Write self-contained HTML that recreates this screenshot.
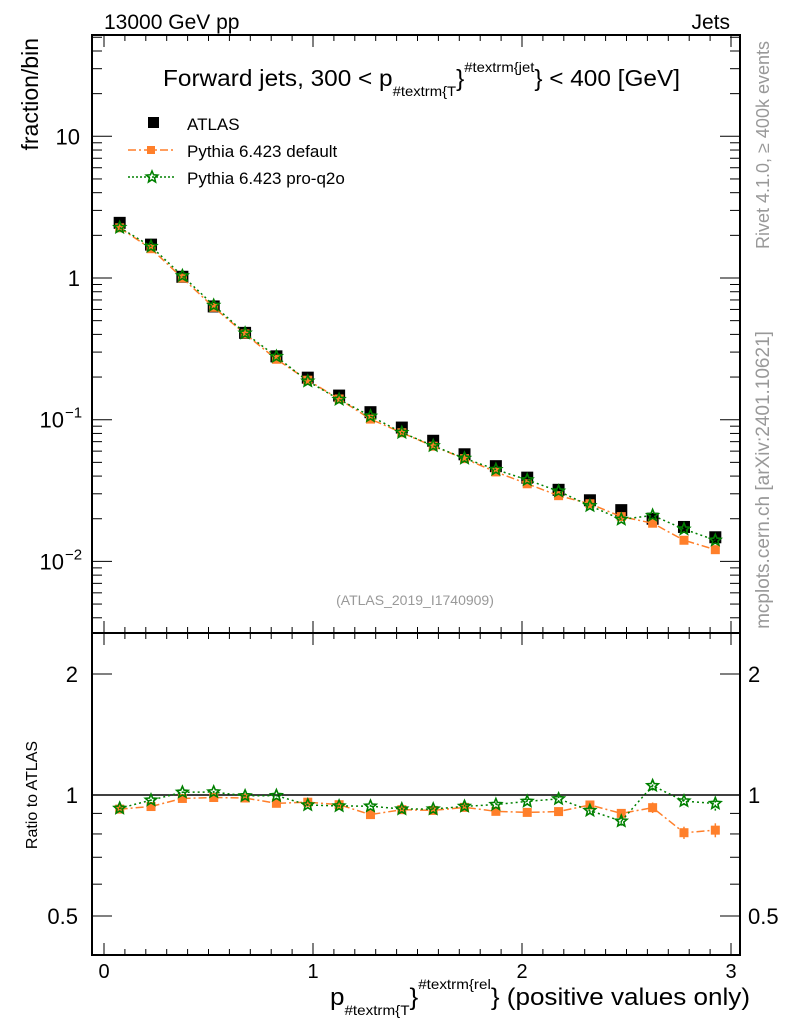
<!DOCTYPE html>
<html><head><meta charset="utf-8"><style>
body{margin:0;background:#fff}
svg{display:block;font-family:"Liberation Sans",sans-serif}
</style></head><body>
<svg id="c" width="786" height="1024" viewBox="0 0 786 1024">
<g id="g"></g>
</svg>
<script>
const xCenters=[0.075,0.225,0.375,0.525,0.675,0.825,0.975,1.125,1.275,1.425,1.575,1.725,1.875,2.025,2.175,2.325,2.475,2.625,2.775,2.925];
const atlas=[2.45,1.72,1.02,0.63,0.41,0.28,0.198,0.148,0.113,0.088,0.071,0.057,0.047,0.039,0.032,0.027,0.023,0.020,0.0175,0.0148];
const pyDefault=[2.26,1.61,1.00,0.621,0.403,0.267,0.190,0.140,0.101,0.0809,0.0650,0.0531,0.0428,0.0353,0.0291,0.0255,0.0207,0.0186,0.0141,0.0121];
const pyQ2o=[2.27,1.67,1.036,0.641,0.408,0.279,0.187,0.139,0.106,0.0812,0.0655,0.0534,0.0445,0.0376,0.0313,0.0247,0.0198,0.0211,0.0169,0.0141];
const ratioErr=[0.005,0.005,0.005,0.005,0.005,0.005,0.006,0.006,0.008,0.008,0.01,0.01,0.012,0.014,0.016,0.02,0.025,0.03,0.035,0.04];
const xTicks=[0,1,2,3];
const yTicks=[[10,"10"],[1,"1"],[0.1,"10","−1"],[0.01,"10","−2"]];
const rTicks=[[2,"2"],[1,"1"],[0.5,"0.5"]];

const L=92,R=740,T=35,MB=633,B=955;
const X=v=>104+209*v;
const Y=v=>278-141.7*Math.log10(v);
const RY=v=>795-121*Math.log2(v);
const NS="http://www.w3.org/2000/svg";
const g=document.getElementById('g');
function el(t,a,txt){const e=document.createElementNS(NS,t);for(const k in a)e.setAttribute(k,a[k]);if(txt!==undefined)e.textContent=txt;g.appendChild(e);return e;}

let f=el('rect',{x:L,y:T,width:R-L,height:MB-T,fill:'none',stroke:'#000','stroke-width':2});

f=el('rect',{x:L,y:MB,width:R-L,height:B-MB,fill:'none',stroke:'#000','stroke-width':2});


for(let v=0;v<=3.01;v+=0.1){const xx=X(v);const maj=Math.abs(v-Math.round(v))<1e-6;const len=maj?12:6;
 for(const [y0,dir] of [[T,1],[MB,-1],[MB,1],[B,-1]]){const t=el('line',{x1:xx,x2:xx,y1:y0,y2:y0+dir*len,stroke:'#000','stroke-width':1});}}
xTicks.forEach(v=>{const t=el('text',{x:X(v),y:978,'font-size':20,'text-anchor':'middle'},String(v));});

for(let d=-3;d<=1;d++){for(let m=1;m<=9;m++){const v=m*Math.pow(10,d);const yy=Y(v);if(yy<T||yy>MB)continue;const len=m==1?20:10;
 let t=el('line',{x1:L,x2:L+len,y1:yy,y2:yy,stroke:'#000'});
 t=el('line',{x1:R,x2:R-len,y1:yy,y2:yy,stroke:'#000'});}}
yTicks.forEach(tk=>{const t=el('text',{x:tk[2]?64:80,y:Y(tk[0])+8,'font-size':22,'text-anchor':'end'},tk[1]);
 if(tk[2]){const s=el('text',{x:65,y:Y(tk[0])-2,'font-size':15},tk[2]);}});

[0.5,0.6,0.7,0.8,0.9,1,2].forEach(v=>{const yy=RY(v);const len=(v==1||v==2||v==0.5)?20:10;
 let t=el('line',{x1:L,x2:L+len,y1:yy,y2:yy,stroke:'#000'});
 t=el('line',{x1:R,x2:R-len,y1:yy,y2:yy,stroke:'#000'});});
rTicks.forEach(tk=>{let t=el('text',{x:78,y:RY(tk[0])+8,'font-size':22,'text-anchor':'end'},tk[1]);
 t=el('text',{x:748,y:RY(tk[0])+8,'font-size':22},tk[1]);});
let ln=el('line',{x1:L,x2:R,y1:RY(1),y2:RY(1),stroke:'#000','stroke-width':1.5});

function poly(vals,fy,col,dash,name){const p=el('polyline',{points:xCenters.map((x,i)=>X(x)+','+fy(vals[i])).join(' '),fill:'none',stroke:col,'stroke-width':1.5,'stroke-dasharray':dash});}
function star(cx,cy,r,name){let pts=[];for(let k=0;k<10;k++){const a=-Math.PI/2+k*Math.PI/5;const rr=k%2?r*0.45:r;pts.push((cx+rr*Math.cos(a)).toFixed(1)+','+(cy+rr*Math.sin(a)).toFixed(1));}
 const s=el('polygon',{points:pts.join(' '),fill:'none',stroke:'#008000','stroke-width':1.6});}

atlas.forEach((v,i)=>{const r=el('rect',{x:X(xCenters[i])-6,y:Y(v)-6,width:12,height:12,fill:'#000'});});
poly(pyDefault,Y,'#ff7f2a','8 3 2 3','default-line');
pyDefault.forEach((v,i)=>{const r=el('rect',{x:X(xCenters[i])-4.5,y:Y(v)-4.5,width:9,height:9,fill:'#ff7f2a'});});
poly(pyQ2o,Y,'#008000','2 3','q2o-line');
pyQ2o.forEach((v,i)=>star(X(xCenters[i]),Y(v),6,'q2o-point'));

const rDef=pyDefault.map((v,i)=>v/atlas[i]), rQ=pyQ2o.map((v,i)=>v/atlas[i]);
poly(rDef,RY,'#ff7f2a','8 3 2 3','ratio-default-line');
rDef.forEach((v,i)=>{const xx=X(xCenters[i]);let e=el('line',{x1:xx,x2:xx,y1:RY(v*(1+ratioErr[i])),y2:RY(v*(1-ratioErr[i])),stroke:'#ff7f2a','stroke-width':1.5});
 const r=el('rect',{x:xx-4.5,y:RY(v)-4.5,width:9,height:9,fill:'#ff7f2a'});});
poly(rQ,RY,'#008000','2 3','ratio-q2o-line');
rQ.forEach((v,i)=>{const xx=X(xCenters[i]);let e=el('line',{x1:xx,x2:xx,y1:RY(v*(1+ratioErr[i])),y2:RY(v*(1-ratioErr[i])),stroke:'#008000','stroke-width':1.5,'stroke-dasharray':'2 2'});
 star(xx,RY(v),6,'ratio-q2o-point');});

function txt(a,s,name){const t=el('text',a,s);return t;}
txt({x:104,y:29,'font-size':21},'13000 GeV pp','energy-label');
txt({x:730,y:29,'font-size':21,'text-anchor':'end'},'Jets','process-label');
let tt=txt({x:163,y:86,'font-size':23,textLength:517,lengthAdjust:'spacingAndGlyphs'},'','plot-title');
tt.innerHTML='Forward jets, 300 &lt; p<tspan font-size="14" dy="10">#textrm{T</tspan><tspan dy="-10">}</tspan><tspan font-size="14" dy="-14">#textrm{jet</tspan><tspan dy="14">} &lt; 400 [GeV]</tspan>';
let lr=el('rect',{x:148,y:117,width:11,height:11,fill:'#000'});
txt({x:187,y:130,'font-size':17},'ATLAS','legend-atlas');
lr=el('line',{x1:128,x2:174,y1:150,y2:150,stroke:'#ff7f2a','stroke-width':1.5,'stroke-dasharray':'8 3 2 3'});
lr=el('rect',{x:147,y:146,width:8,height:8,fill:'#ff7f2a'});
txt({x:187,y:157,'font-size':17},'Pythia 6.423 default','legend-default');
lr=el('line',{x1:128,x2:174,y1:177,y2:177,stroke:'#008000','stroke-width':1.5,'stroke-dasharray':'2 2'});
star(152,177,6,'legend-q2o-marker');
txt({x:187,y:184,'font-size':17},'Pythia 6.423 pro-q2o','legend-q2o');
txt({x:0,y:0,'font-size':23,transform:'translate(38,38) rotate(-90)','text-anchor':'end'},'fraction/bin','y-axis-title');
txt({x:0,y:0,'font-size':16,transform:'translate(37,795) rotate(-90)','text-anchor':'middle'},'Ratio to ATLAS','ratio-axis-title');
txt({x:0,y:0,'font-size':18,fill:'#999',transform:'translate(769,145) rotate(-90)','text-anchor':'middle'},'Rivet 4.1.0, ≥ 400k events','rivet-label');
txt({x:0,y:0,'font-size':19,fill:'#999',transform:'translate(769,480) rotate(-90)','text-anchor':'middle'},'mcplots.cern.ch [arXiv:2401.10621]','mcplots-label');
txt({x:415,y:605,'font-size':14,fill:'#999','text-anchor':'middle'},'(ATLAS_2019_I1740909)','analysis-label');
let xt=txt({x:330,y:1005,'font-size':24,textLength:420,lengthAdjust:'spacingAndGlyphs'},'','x-axis-title');
xt.innerHTML='p<tspan font-size="14" dy="10">#textrm{T</tspan><tspan dy="-10">}</tspan><tspan font-size="14" dy="-16">#textrm{rel</tspan><tspan dy="16">} (positive values only)</tspan>';
</script>
</body></html>
